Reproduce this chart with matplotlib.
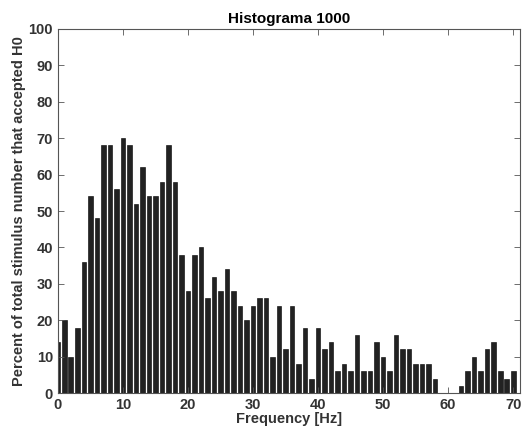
import numpy as np
import matplotlib
matplotlib.use("Agg")
import matplotlib.pyplot as plt

# Frequency bins [Hz] and percent values
freq = np.arange(0, 71)
percent = [14, 20, 10, 18, 36, 54, 48, 68, 68, 56,
           70, 68, 52, 62, 54, 54, 58, 68, 58, 38,
           28, 38, 40, 26, 32, 28, 34, 28, 24, 20,
           24, 26, 26, 10, 24, 12, 24, 8, 18, 4,
           18, 12, 14, 6, 8, 6, 16, 6, 6, 14,
           10, 6, 16, 12, 12, 8, 8, 8, 4, 0,
           0, 0, 2, 6, 10, 6, 12, 14, 6, 4,
           6]

plt.rcParams['font.family'] = ['Liberation Sans', 'DejaVu Sans']

fig = plt.figure(figsize=(5.25, 4.32), dpi=100)
ax = fig.add_axes([0.110, 0.090, 0.880, 0.843])

ax.bar(freq, percent, width=0.7, color='#222222', edgecolor='black', linewidth=0.4)

ax.set_xlim(0, 71)
ax.set_ylim(0, 100)
ax.set_xticks(np.arange(0, 71, 10))
ax.set_yticks(np.arange(0, 101, 10))
ax.tick_params(direction='in', top=True, right=True, length=4, width=0.6,
               labelsize=10.5, color='#555555')
for lab in ax.get_xticklabels() + ax.get_yticklabels():
    lab.set_fontweight('bold')
    lab.set_color('#333333')
for s in ax.spines.values():
    s.set_color('#555555')
    s.set_linewidth(0.8)

ax.set_title('Histograma 1000', fontsize=11, fontweight='bold', pad=4)
ax.set_xlabel('Frequency [Hz]', fontsize=10.5, fontweight='bold', labelpad=0, color='#333333')
ax.set_ylabel('Percent of total stimulus number that accepted H0', fontsize=10.5,
              fontweight='bold', labelpad=2, color='#333333')

fig.savefig('out.png', dpi=100)
